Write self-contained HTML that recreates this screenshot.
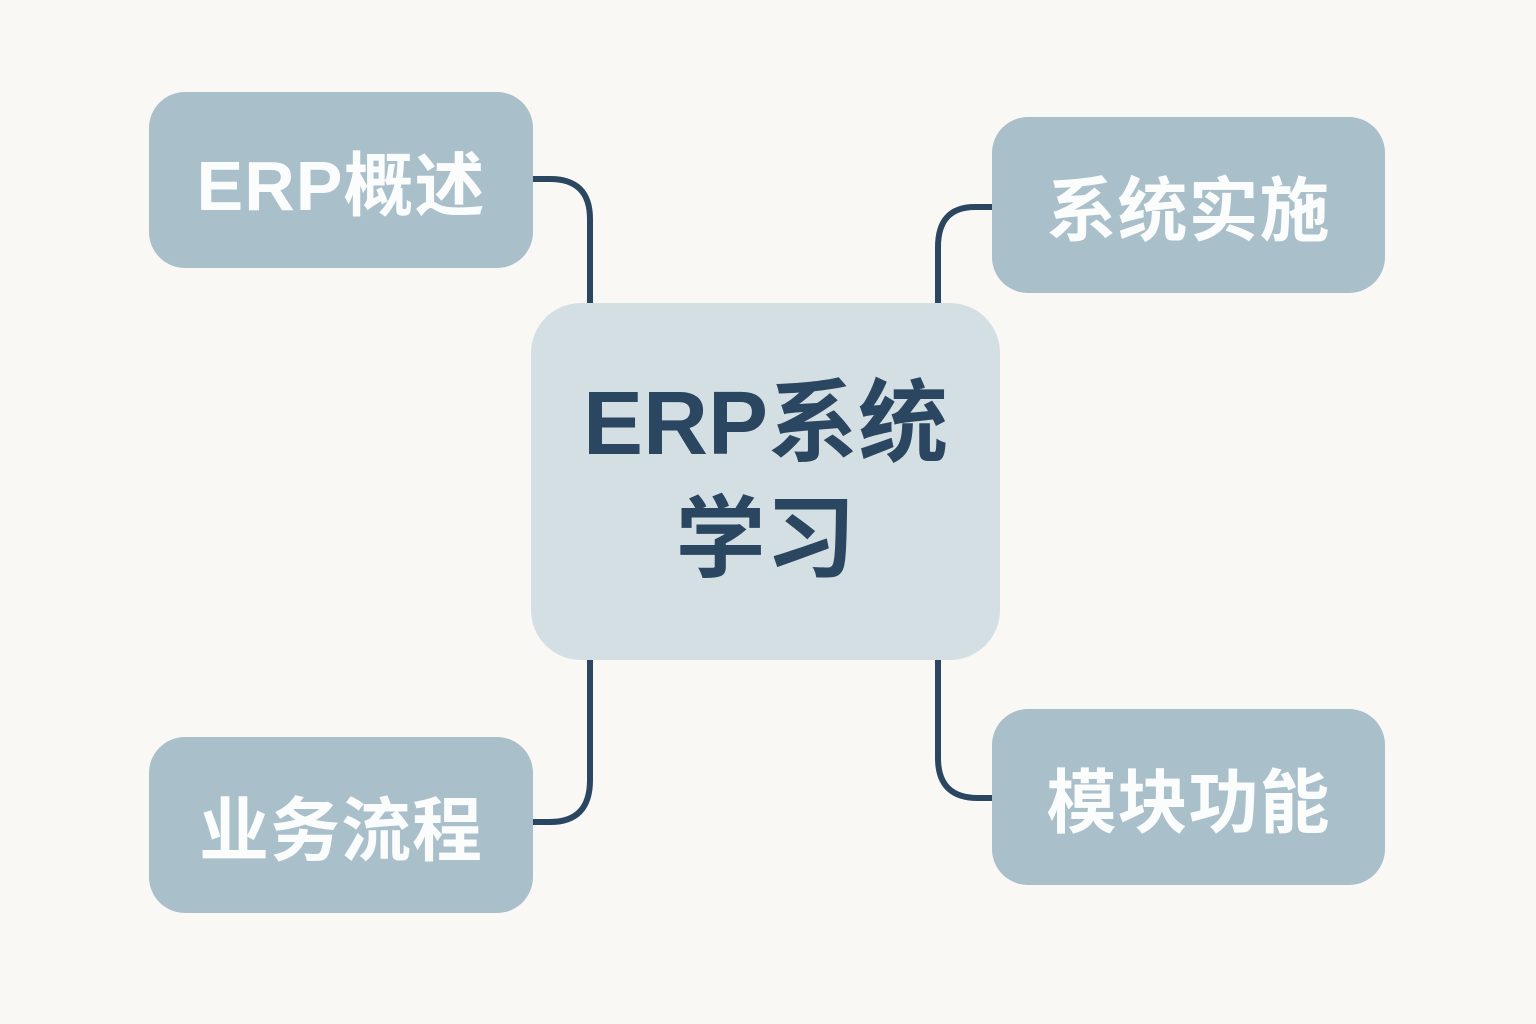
<!DOCTYPE html>
<html><head><meta charset="utf-8"><style>
html,body{margin:0;padding:0}
body{width:1536px;height:1024px;background:#f9f8f5;position:relative;overflow:hidden;font-family:"Liberation Sans","Noto Sans CJK SC",sans-serif;font-weight:bold}
.n{position:absolute;background:#a9bfca;border-radius:36px;color:#fbfcfc;font-size:70px;display:flex;align-items:center;justify-content:center;letter-spacing:1px}
.c{position:absolute;left:531px;top:303px;width:469px;height:357px;background:#d3dfe3;border-radius:50px;color:#2b4660;font-size:90px;display:flex;align-items:center;justify-content:center;text-align:center;line-height:116px}
svg{position:absolute;left:0;top:0}
</style></head><body>
<svg width="1536" height="1024"><g fill="none" stroke="#2b4660" stroke-width="6">
<path d="M533 179 H550 Q590 179 590 219 V305"/>
<path d="M992 207 H975 Q938 207 938 247 V305"/>
<path d="M590 658 V780 Q590 822 550 822 H533"/>
<path d="M938 658 V758 Q938 798 978 798 H992"/>
</g></svg>
<div class="n" style="left:149px;top:92px;width:384px;height:176px">ERP概述</div>
<div class="n" style="left:992px;top:117px;width:393px;height:176px">系统实施</div>
<div class="n" style="left:149px;top:737px;width:384px;height:176px">业务流程</div>
<div class="n" style="left:992px;top:709px;width:393px;height:176px">模块功能</div>
<div class="c"><div>ERP系统<br>学习</div></div>
</body></html>
